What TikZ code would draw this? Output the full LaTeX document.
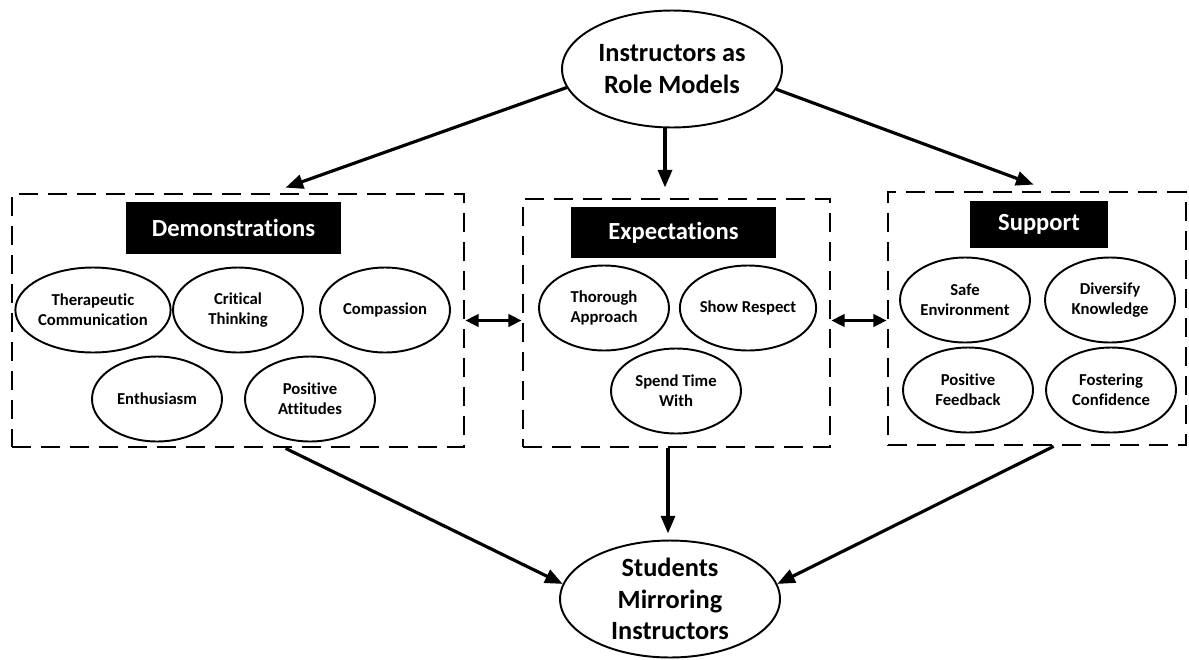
\documentclass[tikz,border=0pt]{standalone}
\usepackage{fontspec}
\setmainfont{Carlito}[Ligatures=NoCommon]
\usetikzlibrary{shapes.geometric,arrows.meta}

\begin{document}
\begin{tikzpicture}[x=0.02cm, y=-0.02cm,
  trait/.style={draw, ellipse, line width=1.1pt, minimum width=2.6cm, minimum height=1.7cm,
    inner sep=0pt, align=center, font=\fontsize{9.5}{11.5}\selectfont\bfseries},
  bigoval/.style={draw, ellipse, line width=1.1pt, minimum width=4.4cm, minimum height=2.34cm,
    inner sep=0pt, align=center, font=\fontsize{15}{18}\selectfont\bfseries},
  header/.style={fill=black, text=white, inner sep=0pt, font=\fontsize{14}{16}\selectfont\bfseries},
  group/.style={draw, dash pattern=on 11pt off 5.5pt, line width=1.6pt, inner sep=0pt},
  arr/.style={line width=1.8pt, -{Triangle[length=10pt,width=8pt]}},
  twoway/.style={line width=1.8pt, {Triangle[length=7.5pt,width=7pt]}-{Triangle[length=7.5pt,width=7pt]}}]

\useasboundingbox (0,0) rectangle (1189,659);

%%top and bottom
\node[bigoval] (top) at (672,69) {Instructors as\\Role Models};
\node[bigoval] (bot) at (670,599) {Students\\Mirroring\\Instructors};

%%the three groups
\node[group, minimum width=9.04cm, minimum height=5.06cm] (demo) at (238,320.5) {};
\node[group, minimum width=6.14cm, minimum height=4.96cm] (expe) at (676.5,323) {};
\node[group, minimum width=5.96cm, minimum height=5.06cm] (supp) at (1037,318.5) {};

\node[header, minimum width=4.3cm, minimum height=1.04cm] (demohead) at (233.5,228) {Demonstrations};
\node[header, minimum width=4.1cm, minimum height=1.02cm] (expehead) at (673.5,232.5) {Expectations};
\node[header, minimum width=2.76cm, minimum height=0.94cm] (supphead) at (1039,224.5) {Support};

%%demonstrations
\node[trait] (therap) at (93,310) {Therapeutic\\Communication};
\node[trait] (critic) at (238,310) {Critical\\Thinking};
\node[trait] (compas) at (385,310) {Compassion};
\node[trait] (enthus) at (157,399) {Enthusiasm};
\node[trait] (posatt) at (310,399) {Positive\\Attitudes};

%%expectations
\node[trait] (thorough) at (604,308) {Thorough\\Approach};
\node[trait] (respect) at (748,308) {Show Respect};
\node[trait] (spend) at (676,391) {Spend Time\\With};

%%support
\node[trait] (safe) at (965,300) {Safe\\Environment};
\node[trait] (divers) at (1110,300) {Diversify\\Knowledge};
\node[trait] (posfeed) at (968,390) {Positive\\Feedback};
\node[trait] (foster) at (1111,390) {Fostering\\Confidence};

%%arrows
\draw[arr] (top.190) -- ([xshift=5.5cm,yshift=0.1cm]demo.north west);
\draw[arr] ([xshift=-0.14cm]top.south) -- ++(0,59);
\draw[arr] (top.-11) -- ([xshift=2.94cm,yshift=0.12cm]supp.north west);

\draw[twoway] (demo.east) -- (demo.east -| expe.west);
\draw[twoway] (expe.east |- demo.east) -- (supp.west |- demo.east);

\draw[arr] ([xshift=5.5cm]demo.south west) -- (bot.172);
\draw[arr] ([xshift=-0.17cm]expe.south) -- ++(0,85);
\draw[arr] ([xshift=3.34cm]supp.south west) -- (bot.8);

\end{tikzpicture}
\end{document}
